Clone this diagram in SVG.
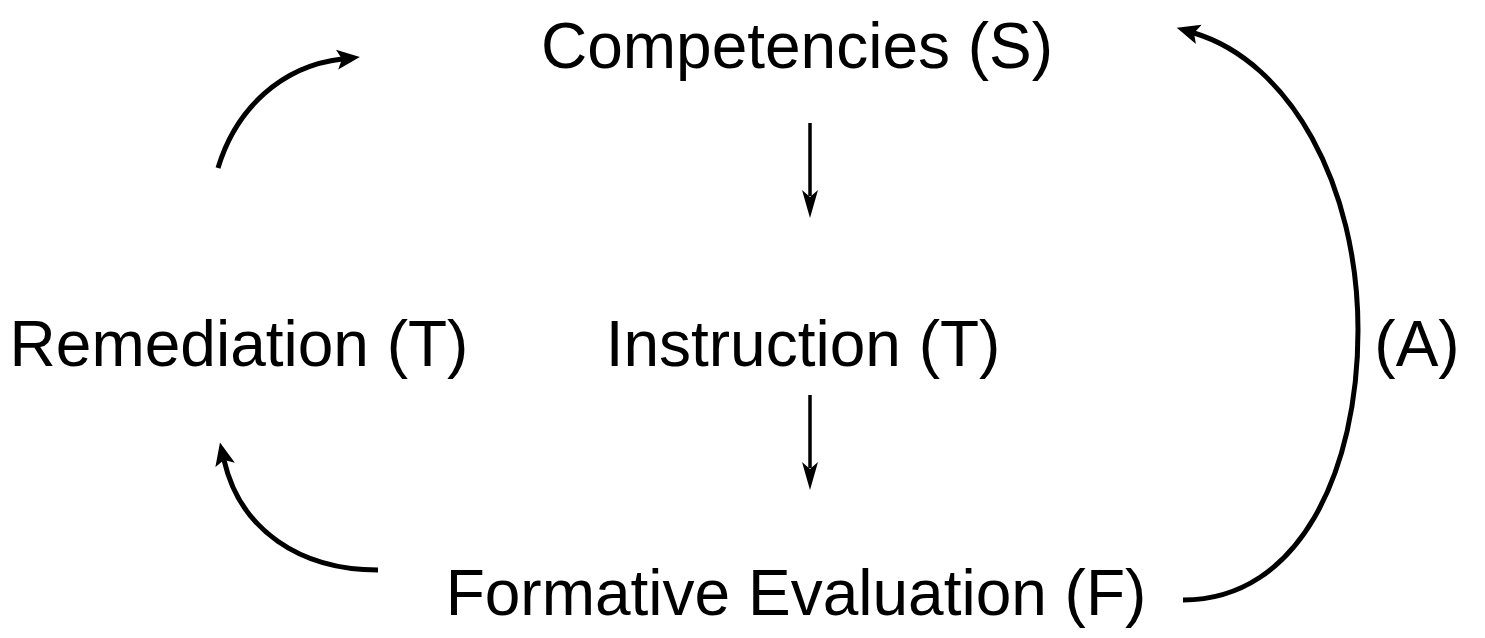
<svg xmlns="http://www.w3.org/2000/svg" width="1485" height="638" viewBox="0 0 1485 638">
<style>
.t{font-family:"Liberation Sans",Arial,sans-serif;font-size:64px;fill:#000}
.c{fill:none;stroke:#000;stroke-width:5}
.v{fill:none;stroke:#000;stroke-width:3.5}
</style>
<defs>
<marker id="ah" markerUnits="userSpaceOnUse" markerWidth="24" markerHeight="22" refX="5" refY="11" orient="auto" viewBox="0 0 24 22">
<path d="M0,1 L23,11 L0,21 L5,11 Z" fill="#000"/>
</marker>
<marker id="av" markerUnits="userSpaceOnUse" markerWidth="30" markerHeight="18" refX="6" refY="9" orient="auto" viewBox="0 0 30 18">
<path d="M0,1 L28,9 L0,17 L7,9 Z" fill="#000"/>
</marker>
</defs>
<rect width="1485" height="638" fill="#fff"/>
<g id="competencies"><text class="t" x="797" y="68" text-anchor="middle">Competencies (S)</text></g>
<g id="instruction"><text class="t" x="803" y="366" text-anchor="middle">Instruction (T)</text></g>
<g id="remediation"><text class="t" x="239" y="366" text-anchor="middle">Remediation (T)</text></g>
<g id="formative"><text class="t" x="796" y="615" text-anchor="middle">Formative Evaluation (F)</text></g>
<g id="a-label"><text class="t" x="1417" y="366" text-anchor="middle">(A)</text></g>
<g id="connectors">
<path class="v" d="M810,123 L810,196" marker-end="url(#av)"/>
<path class="v" d="M810,395 L810,468" marker-end="url(#av)"/>
<path class="c" d="M218,168 C236,108 282,66 342,59" marker-end="url(#ah)"/>
<path class="c" d="M378,570 C300,570 240,530 224,460" marker-end="url(#ah)"/>
<path class="c" d="M1183,600 C1300,600 1358,470 1358,330 C1358,185 1290,62 1194,33" marker-end="url(#ah)"/>
</g>
</svg>
